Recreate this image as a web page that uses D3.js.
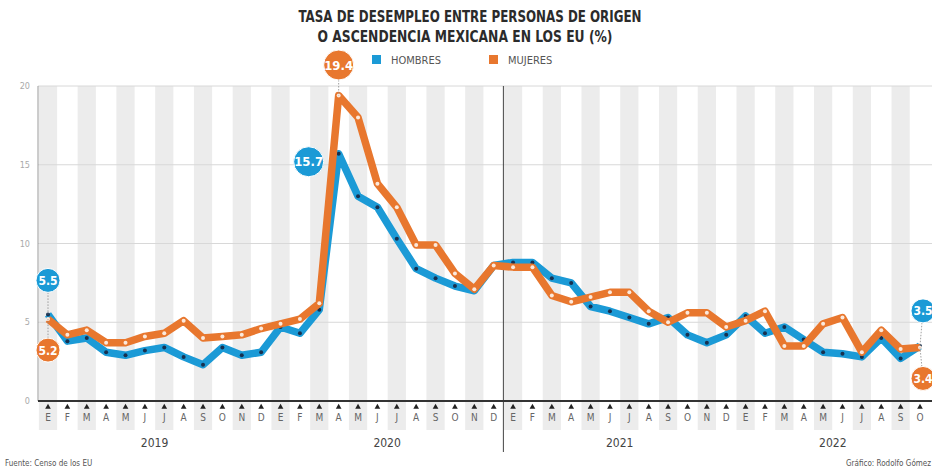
<html>
<head>
<meta charset="utf-8">
<title>Tasa de desempleo</title>
<script src="https://cdnjs.cloudflare.com/ajax/libs/d3/7.8.5/d3.min.js"></script>
<style>
body { margin: 0; background: #fff; }
text { font-family: "DejaVu Sans Condensed", "Liberation Sans Narrow", sans-serif; }
</style>
</head>
<body>
<svg id="chart" width="932" height="472"></svg>
<script>
var monthLetters = ['E', 'F', 'M', 'A', 'M', 'J', 'J', 'A', 'S', 'O', 'N', 'D'];
var years = ['2019', '2020', '2021', '2022'];
var yTicks = [0, 5, 10, 15, 20];

// meses: ene 2019 .. oct 2022
var hombres = [
    5.5, 3.8, 4.0, 3.1, 2.9, 3.2, 3.4, 2.8, 2.3, 3.4, 2.9, 3.1,
    4.7, 4.3, 5.8, 15.7, 13.0, 12.3, 10.3, 8.4, 7.8, 7.3, 7.0, 8.6,
    8.8, 8.8, 7.8, 7.5, 6.0, 5.7, 5.3, 4.9, 5.3, 4.2, 3.7, 4.2,
    5.4, 4.3, 4.7, 3.9, 3.1, 3.0, 2.8, 4.0, 2.7, 3.5
];
var mujeres = [
    5.2, 4.2, 4.5, 3.7, 3.7, 4.1, 4.3, 5.1, 4.0, 4.1, 4.2, 4.6,
    4.9, 5.2, 6.2, 19.4, 18.0, 13.8, 12.3, 9.9, 9.9, 8.1, 7.1, 8.6,
    8.5, 8.5, 6.7, 6.3, 6.6, 6.9, 6.9, 5.7, 5.0, 5.6, 5.6, 4.7,
    5.1, 5.7, 3.5, 3.5, 4.9, 5.3, 3.1, 4.5, 3.3, 3.4
];

var azul = '#1b9ad6', naranja = '#e8772e';

var months = hombres.map(function (d, i) { return { i: i, letter: monthLetters[i % 12], year: years[Math.floor(i / 12)] }; });

var svg = d3.select('#chart');
var x = d3.scaleLinear().domain([0, hombres.length - 1]).range([48, 920]);
var y = d3.scaleLinear().domain([0, 20]).range([401, 86]);
var step = x(1) - x(0);

// franjas grises
svg.append('g').selectAll('rect')
    .data(months.filter(function (d) { return d.i % 2 === 0; }))
    .enter().append('rect')
    .attr('x', function (d) { return x(d.i) - step * 0.47; })
    .attr('width', step * 0.94)
    .attr('y', y(20))
    .attr('height', 430 - y(20))
    .attr('fill', '#ececec');

// rejilla
svg.append('g').selectAll('line')
    .data(yTicks.slice(1))
    .enter().append('line')
    .attr('x1', 38).attr('x2', 932)
    .attr('y1', function (d) { return y(d); })
    .attr('y2', function (d) { return y(d); })
    .attr('stroke', '#d8d8d8').attr('stroke-width', 1);

svg.append('line').attr('x1', 38).attr('x2', 38).attr('y1', y(20)).attr('y2', y(0))
    .attr('stroke', '#9a9a9a');

svg.append('g').selectAll('text')
    .data(yTicks)
    .enter().append('text')
    .attr('x', 30).attr('y', function (d) { return y(d) + 3; })
    .attr('text-anchor', 'end')
    .attr('font-size', 9).attr('fill', '#aaa')
    .text(function (d) { return d; });

// separador de años 2020 / 2021
var sepX = (x(23) + x(24)) / 2;
svg.append('line').attr('x1', sepX).attr('x2', sepX).attr('y1', y(20)).attr('y2', 452)
    .attr('stroke', '#444').attr('stroke-width', 1);

// eje x
svg.append('line').attr('x1', 38).attr('x2', 932).attr('y1', y(0)).attr('y2', y(0))
    .attr('stroke', '#333').attr('stroke-width', 2);

var tri = d3.symbol().type(d3.symbolTriangle).size(14);
svg.append('g').selectAll('path')
    .data(months)
    .enter().append('path')
    .attr('d', tri)
    .attr('transform', function (d) { return 'translate(' + x(d.i) + ',407)'; })
    .attr('fill', '#222');

svg.append('g').selectAll('text')
    .data(months)
    .enter().append('text')
    .attr('x', function (d) { return x(d.i); })
    .attr('y', 421)
    .attr('text-anchor', 'middle')
    .attr('font-size', 10).attr('fill', '#666')
    .text(function (d) { return d.letter; });

svg.append('g').selectAll('text')
    .data(years)
    .enter().append('text')
    .attr('x', function (d) {
        var idx = months.filter(function (m) { return m.year === d; }).map(function (m) { return m.i; });
        return (x(d3.min(idx)) + x(d3.max(idx))) / 2;
    })
    .attr('y', 447)
    .attr('text-anchor', 'middle')
    .attr('font-size', 12).attr('fill', '#444')
    .text(function (d) { return d; });

// lineas
var line = d3.line()
    .x(function (d, i) { return x(i); })
    .y(function (d) { return y(d); });

function serie(data, color, dot) {
    var g = svg.append('g');
    g.append('path').datum(data)
        .attr('d', line)
        .attr('fill', 'none')
        .attr('stroke', color)
        .attr('stroke-width', 7.5)
        .attr('stroke-linejoin', 'round');
    g.selectAll('circle')
        .data(data)
        .enter().append('circle')
        .attr('cx', function (d, i) { return x(i); })
        .attr('cy', function (d) { return y(d); })
        .attr('r', 2)
        .attr('fill', dot);
}
serie(hombres, azul, '#17304f');
serie(mujeres, naranja, '#fbe9dc');

// globos de valores
var last = hombres.length - 1;
var callouts = [
    { i: 15, v: mujeres[15], color: naranja, cx: x(15), cy: 65, r: 15, stem: true },
    { i: 15, v: hombres[15], color: azul, cx: x(15) - 30, cy: y(hombres[15]) + 8, r: 15, stem: false },
    { i: 0, v: hombres[0], color: azul, cx: x(0), cy: y(hombres[0]) - 34, r: 12, stem: true },
    { i: 0, v: mujeres[0], color: naranja, cx: x(0), cy: y(mujeres[0]) + 31, r: 12, stem: true },
    { i: last, v: hombres[last], color: azul, cx: x(last) + 3, cy: y(hombres[last]) - 35, r: 12, stem: true },
    { i: last, v: mujeres[last], color: naranja, cx: x(last) + 3, cy: y(mujeres[last]) + 31, r: 12, stem: true }
];
var cg = svg.append('g').selectAll('g').data(callouts).enter().append('g');
cg.filter(function (d) { return d.stem; }).append('line')
    .attr('x1', function (d) { return d.cx; })
    .attr('x2', function (d) { return x(d.i); })
    .attr('y1', function (d) { return d.cy; })
    .attr('y2', function (d) { return y(d.v); })
    .attr('stroke', '#888').attr('stroke-width', 0.8)
    .attr('stroke-dasharray', '1.5,1.5');
cg.append('circle')
    .attr('cx', function (d) { return d.cx; })
    .attr('cy', function (d) { return d.cy; })
    .attr('r', function (d) { return d.r; })
    .attr('fill', function (d) { return d.color; })
    .attr('stroke', '#fff').attr('stroke-width', 1);
cg.append('text')
    .attr('x', function (d) { return d.cx; })
    .attr('y', function (d) { return d.cy + 4.5; })
    .attr('text-anchor', 'middle')
    .attr('font-size', function (d) { return d.r > 13 ? 13 : 12; })
    .attr('font-weight', 'bold')
    .attr('fill', '#fff')
    .text(function (d) { return d.v.toFixed(1); });

// titulo
svg.append('text').attr('x', 470).attr('y', 22).attr('text-anchor', 'middle')
    .attr('font-size', 15).attr('font-weight', 'bold').attr('fill', '#2b2b2b')
    .attr('textLength', 343).attr('lengthAdjust', 'spacingAndGlyphs')
    .text('TASA DE DESEMPLEO ENTRE PERSONAS DE ORIGEN');
svg.append('text').attr('x', 465).attr('y', 42).attr('text-anchor', 'middle')
    .attr('font-size', 15).attr('font-weight', 'bold').attr('fill', '#2b2b2b')
    .attr('textLength', 295).attr('lengthAdjust', 'spacingAndGlyphs')
    .text('O ASCENDENCIA MEXICANA EN LOS EU (%)');

// leyenda
var legend = [{ name: 'HOMBRES', color: azul, x: 372 }, { name: 'MUJERES', color: naranja, x: 489 }];
var lg = svg.append('g').selectAll('g').data(legend).enter().append('g');
lg.append('rect').attr('x', function (d) { return d.x; }).attr('y', 55)
    .attr('width', 9).attr('height', 9).attr('fill', function (d) { return d.color; });
lg.append('text').attr('x', function (d) { return d.x + 19; }).attr('y', 64)
    .attr('font-size', 11).attr('fill', '#555')
    .text(function (d) { return d.name; });

// notas
svg.append('text').attr('x', 5).attr('y', 466).attr('font-size', 8).attr('fill', '#555')
    .text('Fuente: Censo de los EU');
svg.append('text').attr('x', 931).attr('y', 466).attr('text-anchor', 'end').attr('font-size', 8).attr('fill', '#555')
    .text('Gráfico: Rodolfo Gómez');
</script>
</body>
</html>
